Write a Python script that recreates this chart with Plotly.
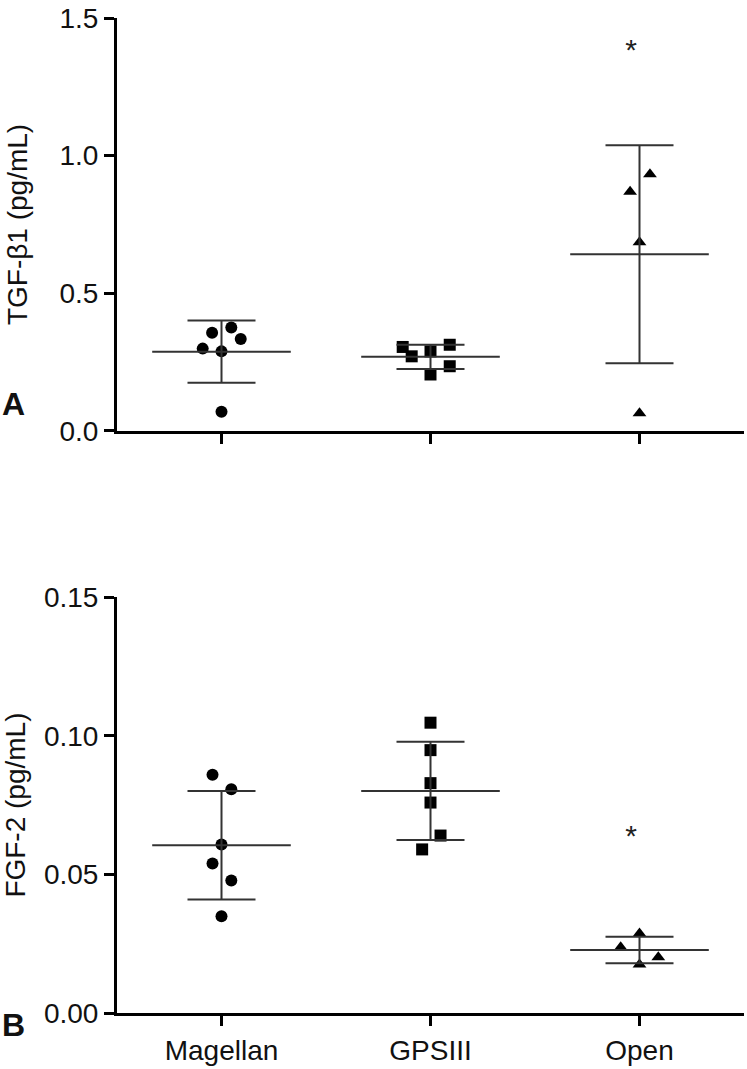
import plotly.graph_objects as go

# Load the data
groups = ["Magellan", "GPSIII", "Open"]
symbols = ["circle", "square", "triangle-up"]

# Panel A: TGF-beta1 (pg/mL), individual values per group
tgf_magellan = [0.357, 0.376, 0.334, 0.299, 0.289, 0.070]
tgf_gpsiii = [0.305, 0.271, 0.289, 0.313, 0.235, 0.205]
tgf_open = [0.932, 0.869, 0.685, 0.064]
tgf_mean = [0.288, 0.269, 0.642]
tgf_sd = [0.113, 0.044, 0.396]
tgf_star = [None, None, 1.375]

# Panel B: FGF-2 (pg/mL)
fgf_magellan = [0.0859, 0.0807, 0.0608, 0.0539, 0.0478, 0.0349]
fgf_gpsiii = [0.1047, 0.0948, 0.0829, 0.0759, 0.0640, 0.0590]
fgf_open = [0.0287, 0.0237, 0.0201, 0.0175]
fgf_mean = [0.0605, 0.0801, 0.0227]
fgf_sd = [0.0196, 0.0177, 0.0048]
fgf_star = [None, None, 0.063]

# horizontal scatter of the dots inside each column (category units)
tgf_jitter = [
    [-0.045, 0.047, 0.092, -0.09, 0.0, 0.0],
    [-0.133, -0.09, 0.0, 0.092, 0.092, 0.0],
    [0.05, -0.045, 0.0, 0.0],
]
fgf_jitter = [
    [-0.043, 0.047, 0.0, -0.043, 0.047, 0.0],
    [0.0, 0.0, 0.0, 0.0, 0.048, -0.04],
    [0.0, -0.09, 0.09, 0.0],
]
star_shift = [0.0, 0.0, -0.04]

ERR_COLOR = "#333333"
TXT_COLOR = "#111111"
FONT = "Liberation Sans, Arial, sans-serif"

fig = go.Figure()


def add_panel(values, jitter, means, sds, stars, xa, ya):
    for i, vals in enumerate(values):
        # dots
        fig.add_trace(go.Scatter(
            x=[i + j for j in jitter[i]], y=vals,
            mode="markers",
            marker=dict(symbol=symbols[i], color="black",
                        size=12 if symbols[i] == "circle" else 12),
            xaxis=xa, yaxis=ya, showlegend=False, hoverinfo="y"
        ))
        # SD whiskers with caps
        fig.add_trace(go.Scatter(
            x=[i], y=[means[i]],
            mode="markers",
            marker=dict(size=0.1, color="rgba(0,0,0,0)"),
            error_y=dict(type="data", array=[sds[i]], color=ERR_COLOR,
                         thickness=2, width=34),
            xaxis=xa, yaxis=ya, showlegend=False, hoverinfo="skip"
        ))
        # mean bar (line-ew length is 1.4 x size)
        fig.add_trace(go.Scatter(
            x=[i], y=[means[i]],
            mode="markers",
            marker=dict(symbol="line-ew", size=99,
                        line=dict(color=ERR_COLOR, width=2)),
            xaxis=xa, yaxis=ya, showlegend=False, hoverinfo="skip"
        ))
        if stars[i] is not None:
            fig.add_trace(go.Scatter(
                x=[i + star_shift[i]], y=[stars[i]],
                mode="text", text=["*"],
                textfont=dict(size=30, color="#222222", family=FONT),
                xaxis=xa, yaxis=ya, showlegend=False, hoverinfo="skip"
            ))


add_panel([tgf_magellan, tgf_gpsiii, tgf_open], tgf_jitter,
          tgf_mean, tgf_sd, tgf_star, "x", "y")
add_panel([fgf_magellan, fgf_gpsiii, fgf_open], fgf_jitter,
          fgf_mean, fgf_sd, fgf_star, "x2", "y2")

axis_common = dict(
    showgrid=False, zeroline=False, showline=True,
    linecolor="black", linewidth=3,
    ticks="outside", ticklen=10, tickwidth=3, tickcolor="black",
    tickfont=dict(family=FONT, size=28, color=TXT_COLOR),
)

fig.update_layout(
    width=747, height=1069,
    margin=dict(l=117, r=3, t=11, b=56),
    plot_bgcolor="white", paper_bgcolor="white",
    xaxis=dict(axis_common, domain=[0, 1], anchor="y",
               range=[-0.5, 2.5], tickvals=[0, 1, 2],
               showticklabels=False),
    yaxis=dict(axis_common, domain=[0.585, 1], anchor="x",
               range=[0, 1.5], tickvals=[0, 0.5, 1.0, 1.5],
               tickformat=".1f",
               title=dict(text="TGF-β1 (pg/mL)", standoff=24,
                          font=dict(family=FONT, size=28, color=TXT_COLOR))),
    xaxis2=dict(axis_common, domain=[0, 1], anchor="y2",
                range=[-0.5, 2.5], tickvals=[0, 1, 2], ticktext=groups),
    yaxis2=dict(axis_common, domain=[0, 0.418], anchor="x2",
                range=[0, 0.15], tickvals=[0, 0.05, 0.10, 0.15],
                tickformat=".2f",
                title=dict(text="FGF-2 (pg/mL)", standoff=12,
                           font=dict(family=FONT, size=28, color=TXT_COLOR))),
    annotations=[
        dict(text="<b>A</b>", xref="paper", yref="paper",
             x=-0.187, y=0.612, xanchor="left", yanchor="middle",
             showarrow=False, font=dict(family=FONT, size=32, color=TXT_COLOR)),
        dict(text="<b>B</b>", xref="paper", yref="paper",
             x=-0.187, y=-0.012, xanchor="left", yanchor="middle",
             showarrow=False, font=dict(family=FONT, size=32, color=TXT_COLOR)),
    ],
)

fig.write_html("out.html", config={"displayModeBar": False},
               post_script="document.body.style.margin='0';")
